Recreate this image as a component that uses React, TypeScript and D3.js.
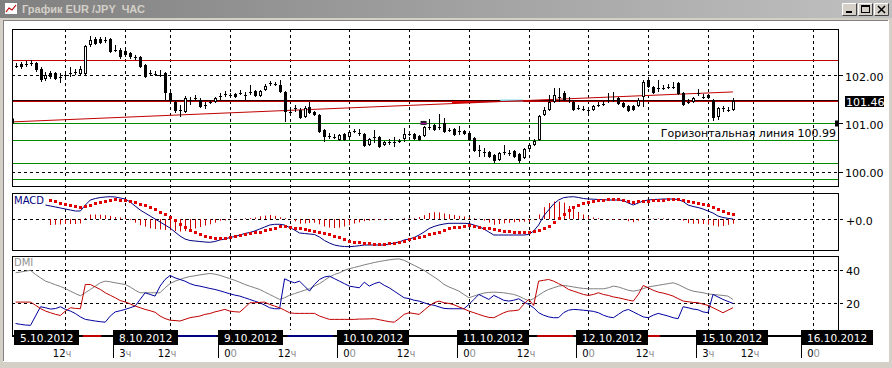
import React from "react";
import * as d3 from "d3";

// EUR/JPY hourly bars, 5.10.2012 - 15.10.2012
const opens = [
  102.19, 102.23, 102.22, 102.22, 102.25, 102.12, 101.92, 102.04, 102.04, 101.95,
  101.98, 102.03, 102.05, 102.02, 102.02, 102.62, 102.74, 102.74, 102.71, 102.74,
  102.51, 102.52, 102.50, 102.45, 102.38, 102.37, 102.21, 102.03, 102.01, 102.02,
  102.04, 101.63, 101.44, 101.27, 101.23, 101.49, 101.51, 101.48, 101.37, 101.43,
  101.44, 101.56, 101.60, 101.59, 101.61, 101.62, 101.59, 101.64, 101.67, 101.57,
  101.69, 101.83, 101.82, 101.79, 101.65, 101.23, 101.30, 101.28, 101.13, 101.34,
  101.23, 101.17, 100.86, 100.74, 100.72, 100.66, 100.78, 100.72, 100.84, 100.82,
  100.78, 100.55, 100.72, 100.72, 100.55, 100.62, 100.61, 100.64, 100.68, 100.78,
  100.78, 100.74, 100.74, 100.92, 100.97, 100.91, 101.01, 100.86, 100.88, 100.84,
  100.84, 100.80, 100.70, 100.44, 100.41, 100.41, 100.35, 100.24, 100.40, 100.38,
  100.43, 100.37, 100.28, 100.47, 100.55, 100.66, 101.17, 101.28, 101.44, 101.54,
  101.63, 101.48, 101.44, 101.31, 101.29, 101.27, 101.28, 101.37, 101.39, 101.47,
  101.48, 101.52, 101.42, 101.36, 101.36, 101.36, 101.54, 101.90, 101.75, 101.72,
  101.73, 101.74, 101.76, 101.83, 101.63, 101.43, 101.44, 101.62, 101.54, 101.59,
  101.48, 101.13, 101.30, 101.27, 101.28,
];
const highs = [
  102.25, 102.27, 102.29, 102.31, 102.27, 102.17, 102.06, 102.08, 102.06, 102.04,
  102.04, 102.17, 102.12, 102.19, 102.62, 102.81, 102.79, 102.79, 102.79, 102.76,
  102.62, 102.56, 102.56, 102.48, 102.41, 102.39, 102.23, 102.10, 102.08, 102.10,
  102.06, 101.65, 101.46, 101.38, 101.57, 101.54, 101.59, 101.52, 101.44, 101.48,
  101.54, 101.63, 101.67, 101.63, 101.63, 101.69, 101.65, 101.79, 101.69, 101.69,
  101.81, 101.88, 101.86, 101.90, 101.67, 101.32, 101.38, 101.32, 101.36, 101.44,
  101.26, 101.19, 100.88, 100.80, 100.78, 100.78, 100.80, 100.86, 100.88, 100.88,
  100.80, 100.70, 100.86, 100.74, 100.64, 100.68, 100.72, 100.68, 100.90, 100.82,
  100.80, 100.76, 100.94, 101.09, 100.99, 101.19, 101.11, 100.90, 100.90, 100.94,
  100.86, 100.82, 100.72, 100.55, 100.49, 100.43, 100.37, 100.41, 100.55, 100.45,
  100.45, 100.39, 100.49, 100.59, 100.68, 101.17, 101.34, 101.59, 101.73, 101.73,
  101.67, 101.54, 101.46, 101.38, 101.36, 101.34, 101.38, 101.44, 101.46, 101.63,
  101.65, 101.54, 101.44, 101.38, 101.38, 101.52, 101.90, 101.94, 101.77, 101.90,
  101.79, 101.81, 101.86, 101.86, 101.65, 101.50, 101.54, 101.71, 101.61, 101.61,
  101.50, 101.34, 101.36, 101.34, 101.52,
];
const lows = [
  102.14, 102.12, 102.17, 102.19, 102.06, 101.86, 101.88, 101.92, 101.90, 101.83,
  101.94, 101.96, 102.00, 102.00, 102.00, 102.58, 102.62, 102.64, 102.66, 102.45,
  102.48, 102.33, 102.37, 102.33, 102.31, 102.14, 101.94, 101.98, 101.98, 101.96,
  101.48, 101.44, 101.21, 101.13, 101.21, 101.38, 101.46, 101.32, 101.30, 101.40,
  101.42, 101.48, 101.54, 101.52, 101.52, 101.59, 101.48, 101.59, 101.54, 101.54,
  101.67, 101.77, 101.77, 101.63, 101.03, 101.17, 101.23, 101.09, 101.11, 101.19,
  101.15, 100.80, 100.61, 100.68, 100.68, 100.64, 100.64, 100.70, 100.80, 100.74,
  100.51, 100.53, 100.59, 100.49, 100.53, 100.55, 100.51, 100.59, 100.61, 100.74,
  100.66, 100.64, 100.72, 100.86, 100.84, 100.86, 100.80, 100.82, 100.74, 100.76,
  100.76, 100.64, 100.41, 100.30, 100.30, 100.28, 100.18, 100.22, 100.35, 100.33,
  100.28, 100.18, 100.26, 100.45, 100.53, 100.64, 101.15, 101.26, 101.42, 101.44,
  101.46, 101.42, 101.26, 101.28, 101.26, 101.21, 101.26, 101.34, 101.36, 101.42,
  101.44, 101.38, 101.32, 101.23, 101.26, 101.34, 101.34, 101.73, 101.61, 101.65,
  101.69, 101.71, 101.71, 101.59, 101.36, 101.40, 101.42, 101.56, 101.50, 101.50,
  101.05, 101.07, 101.23, 101.23, 101.26,
];
const closes = [
  102.18, 102.17, 102.23, 102.25, 102.10, 101.90, 102.00, 101.96, 101.92, 101.96,
  102.00, 102.04, 102.06, 102.12, 102.60, 102.72, 102.64, 102.66, 102.72, 102.48,
  102.52, 102.37, 102.41, 102.37, 102.37, 102.17, 101.96, 102.04, 102.02, 102.01,
  101.63, 101.46, 101.26, 101.28, 101.52, 101.48, 101.52, 101.34, 101.38, 101.44,
  101.52, 101.57, 101.61, 101.59, 101.54, 101.63, 101.58, 101.65, 101.57, 101.67,
  101.77, 101.84, 101.81, 101.65, 101.23, 101.24, 101.31, 101.11, 101.32, 101.21,
  101.17, 100.82, 100.72, 100.73, 100.71, 100.76, 100.66, 100.82, 100.85, 100.81,
  100.53, 100.68, 100.71, 100.51, 100.61, 100.61, 100.62, 100.63, 100.78, 100.79,
  100.68, 100.66, 100.92, 100.93, 100.86, 100.92, 100.82, 100.87, 100.76, 100.85,
  100.78, 100.66, 100.43, 100.45, 100.40, 100.30, 100.22, 100.39, 100.41, 100.39,
  100.30, 100.22, 100.47, 100.55, 100.64, 101.15, 101.28, 101.44, 101.59, 101.55,
  101.48, 101.49, 101.28, 101.32, 101.30, 101.28, 101.36, 101.38, 101.40, 101.48,
  101.49, 101.40, 101.34, 101.26, 101.28, 101.48, 101.86, 101.75, 101.63, 101.73,
  101.74, 101.75, 101.75, 101.61, 101.38, 101.44, 101.52, 101.63, 101.55, 101.52,
  101.11, 101.32, 101.31, 101.28, 101.46,
];

const macd: (number | null)[] = [
  null, null, null, null, null, null, 0.14, 0.13, 0.12, 0.11,
  0.10, 0.09, 0.08, 0.08, 0.14, 0.19, 0.205, 0.215, 0.22, 0.223,
  0.22, 0.21, 0.20, 0.17, 0.13, 0.09, 0.06, 0.03, 0.00, -0.03,
  -0.06, -0.09, -0.13, -0.17, -0.20, -0.215, -0.22, -0.225, -0.23, -0.233,
  -0.225, -0.21, -0.20, -0.185, -0.175, -0.16, -0.145, -0.135, -0.12, -0.10,
  -0.08, -0.06, -0.053, -0.053, -0.06, -0.085, -0.11, -0.14, -0.145, -0.15,
  -0.155, -0.18, -0.215, -0.24, -0.26, -0.27, -0.275, -0.277, -0.273, -0.267,
  -0.26, -0.26, -0.26, -0.26, -0.26, -0.25, -0.24, -0.23, -0.21, -0.20,
  -0.185, -0.16, -0.13, -0.095, -0.075, -0.06, -0.05, -0.043, -0.043, -0.043,
  -0.043, -0.045, -0.06, -0.075, -0.10, -0.13, -0.16, -0.16, -0.16, -0.16,
  -0.16, -0.16, -0.16, -0.155, -0.12, -0.06, 0.03, 0.09, 0.15, 0.19,
  0.213, 0.22, 0.223, 0.215, 0.205, 0.20, 0.198, 0.195, 0.193, 0.19,
  0.19, 0.19, 0.185, 0.16, 0.14, 0.16, 0.18, 0.19, 0.195, 0.197,
  0.20, 0.20, 0.20, 0.195, 0.175, 0.14, 0.125, 0.115, 0.10, 0.08,
  0.06, 0.03, 0.015, 0.007, 0.00,
];
const signal: (number | null)[] = [
  null, null, null, null, null, null, null, 0.19, 0.177, 0.165,
  0.15, 0.14, 0.13, 0.125, 0.13, 0.145, 0.16, 0.173, 0.182, 0.192,
  0.20, 0.195, 0.187, 0.178, 0.167, 0.152, 0.137, 0.123, 0.10, 0.075,
  0.05, 0.023, -0.01, -0.045, -0.08, -0.105, -0.125, -0.145, -0.165, -0.18,
  -0.188, -0.193, -0.185, -0.177, -0.17, -0.16, -0.152, -0.143, -0.135, -0.127,
  -0.113, -0.10, -0.085, -0.07, -0.068, -0.078, -0.087, -0.093, -0.10, -0.11,
  -0.118, -0.127, -0.14, -0.155, -0.17, -0.183, -0.20, -0.215, -0.228, -0.233,
  -0.238, -0.243, -0.248, -0.25, -0.248, -0.245, -0.242, -0.23, -0.218, -0.205,
  -0.193, -0.18, -0.168, -0.155, -0.143, -0.125, -0.105, -0.09, -0.083, -0.075,
  -0.068, -0.06, -0.068, -0.077, -0.085, -0.093, -0.102, -0.11, -0.117, -0.122,
  -0.127, -0.132, -0.133, -0.125, -0.115, -0.105, -0.088, -0.07, -0.025, 0.015,
  0.05, 0.09, 0.123, 0.145, 0.16, 0.175, 0.182, 0.187, 0.192, 0.196,
  0.199, 0.197, 0.19, 0.182, 0.173, 0.177, 0.181, 0.185, 0.19, 0.192,
  0.195, 0.197, 0.199, 0.197, 0.19, 0.182, 0.173, 0.162, 0.15, 0.137,
  0.125, 0.105, 0.085, 0.065, 0.047,
];

const adx = [
  38, 38.5, 39, 39.5, 37, 35, 33, 32, 30.8, 29.8,
  28.5, 27, 25.5, 24.2, 26, 28, 30, 32, 33, 32.6,
  32, 31.5, 31, 29.5, 27.5, 26, 26, 26, 26, 26,
  29, 31.5, 33, 34, 35, 35.8, 36.2, 36.8, 37.2, 37.6,
  37.2, 36.5, 35.5, 34.5, 33.5, 32.3, 31, 30, 29, 28,
  26.5, 25, 23.5, 22, 23, 24.5, 25.5, 26.5, 27.5, 28.4,
  30, 31.5, 33.5, 35.5, 37, 38, 39.5, 40.5, 41.2, 42,
  42.8, 43.5, 44.2, 44.8, 45.3, 45.8, 46.2, 46.4, 45.5, 44,
  42.5, 41, 39.5, 37.5, 35.5, 33.5, 31, 29.5, 28.3, 27,
  25, 23, 24, 25, 25.8, 26.2, 26.4, 26.2, 26, 25.5,
  25, 24, 22.5, 21.2, 22.5, 24.5, 26.5, 28, 29, 30,
  30.4, 30, 29.5, 29, 28.6, 28.4, 28.4, 28.4, 28.4, 29,
  30, 29.5, 28.5, 27.5, 27, 27.5, 28.5, 29.5, 30, 30.5,
  31, 31.5, 32, 31, 29.5, 28, 27, 26.5, 26, 25.3,
  25, 24.7, 24.4, 24, 22,
];
const minusDI = [
  7.5, 7, 6.6, 6.4, 12, 17.6, 17, 16.2, 16.5, 17.6,
  16, 15, 13.5, 11.5, 10, 9.5, 9, 8.6, 8.3, 12,
  14.5, 15.2, 16, 17, 18, 22, 26, 25, 24, 30,
  34, 36.4, 35, 34, 33, 31.5, 30.5, 30, 29.3, 28.6,
  28, 27.2, 26.3, 25.4, 24.6, 24, 23, 22, 21, 20,
  18.6, 17, 16.4, 16.4, 34.4, 33, 32, 33, 30, 27,
  31, 34, 35.5, 36, 34.5, 33, 31.5, 30, 29.5, 29,
  32.4, 30, 31.5, 32.4, 30.5, 29, 27, 25, 23, 22.5,
  21.5, 21, 20, 19, 18.5, 17.5, 16.6, 16.4, 16.4, 16.4,
  16.4, 19, 22, 25, 23.5, 22, 24.4, 23, 21.5, 21,
  21.5, 22.4, 20.5, 19, 17, 14, 12.5, 11.5, 11, 11,
  14, 15.5, 16, 15.8, 15.5, 15.2, 14.8, 14, 12.5, 11.5,
  11, 13, 15, 16, 14.5, 13, 11.5, 11, 12.5, 13.6,
  12.8, 12, 11, 10.4, 17.6, 17, 16.2, 15.8, 14.5, 14,
  25, 23.5, 22, 20.8, 19.6,
];
const plusDI = [
  20.4, 20.4, 20.4, 20.4, 18.5, 16.5, 15, 14, 13, 12.4,
  15, 17, 16.6, 16.4, 31, 31, 29.5, 28, 26, 24.5,
  23, 21.3, 20.5, 19.3, 18, 17, 16, 15.2, 14.3, 12,
  10.5, 9.5, 9.3, 9, 10, 11, 11.5, 12, 13, 13.5,
  14.5, 15.2, 16, 15, 14.6, 14.4, 17, 20, 20, 20.2,
  20.4, 19, 18, 17, 15.5, 14, 13.6, 13.6, 13.6, 13.6,
  13.6, 12, 11, 10, 10, 10, 10, 10, 10, 10.2,
  10.2, 10.3, 10.4, 9.8, 9.2, 8.6, 8.3, 10.5, 13, 14,
  13.5, 13, 15.5, 18, 20, 21, 20, 19.6, 18.8, 17.5,
  16.3, 15, 14, 13, 12, 11.2, 11, 12.5, 14, 15,
  15.2, 15.6, 19, 22, 18.4, 33, 33.5, 34, 33, 31.5,
  30, 28, 27, 26, 25, 24.4, 25, 26, 25, 24.4,
  23.5, 23, 22.3, 21.6, 21, 25, 30.4, 29, 27.5, 26.4,
  25.8, 25, 24, 22.5, 21, 20.6, 20.2, 20, 19.2, 18.4,
  17, 15.5, 14, 15.5, 17,
];

// time axis (bar index)
const gridBars = [10, 22, 31, 43, 55, 67, 79, 91, 103, 115, 127, 139, 148, 160];
const hourLabels = ["12ч", "3ч", "12ч", "00", "12ч", "00", "12ч", "00", "12ч", "00", "12ч", "3ч", "12ч", "00"];
const dayBars = [0, 20, 41, 65, 89, 113, 137, 158];
const dayLabels = ["5.10.2012", "8.10.2012", "9.10.2012", "10.10.2012", "11.10.2012", "12.10.2012", "15.10.2012", "16.10.2012"];

// price levels
const priceTicks = [102, 101, 100];
const resistance = 102.32;
const lastPrice = 101.46;
const greenLevels = [100.99, 100.66, 100.17, 99.84];
const hLineLabel = "Горизонтальная линия 100.99";
const trendBars = [-0.7, 144];
const trendPrices = [101.03, 101.65];
const dmiTicks = [40, 20];

const FONT = "DejaVu Sans";

export default function App() {
  const x = d3.scaleLinear().domain([0, 160]).range([15.6, 812.6]);
  const yP = d3.scaleLinear().domain([100, 102]).range([171.7, 75]);
  const yM = d3.scaleLinear().domain([0, 0.2]).range([219, 199]);
  const yD = d3.scaleLinear().domain([0, 40]).range([336, 269.5]);
  const cx = (i: number) => Math.round(x(i));
  const crisp = (v: number) => Math.round(v) + 0.5;

  const L = 12, R = 838;
  const pT = 29, pB = 186, mT = 193, mB = 250, dT = 256, dB = 335;

  const macdPath = d3.line<number | null>()
    .defined(d => d != null)
    .x((_, i) => x(i))
    .y(d => yM(d as number))(macd) || "";
  const dmiLine = (arr: number[]) => d3.line<number>().x((_, i) => x(i)).y(d => yD(d))(arr) || "";

  const yLast = crisp(yP(lastPrice));
  const yH = crisp(yP(greenLevels[0]));

  return (
    <svg width={892} height={368} style={{ position: "absolute", left: 0, top: 0 }} fontFamily={FONT}>
      <defs>
        <linearGradient id="cap" x1="0" x2="1" y1="0" y2="0">
          <stop offset="0" stopColor="#808080" />
          <stop offset="1" stopColor="#c0c0c0" />
        </linearGradient>
        <clipPath id="clipM"><rect x={L} y={mT} width={R - L} height={mB - mT} /></clipPath>
        <clipPath id="clipD"><rect x={L} y={dT} width={R - L} height={dB - dT} /></clipPath>
      </defs>

      {/* window frame */}
      <rect x={0} y={0} width={892} height={368} fill="#d4d0c8" />
      <rect x={0} y={0} width={892} height={18} fill="url(#cap)" />
      <rect x={3} y={21} width={885} height={340} fill="#fff" />
      <line x1={3.5} x2={3.5} y1={21} y2={361} stroke="#808080" />
      <line x1={3} x2={888} y1={20.5} y2={20.5} stroke="#808080" />
      <line x1={3} x2={888} y1={361.5} y2={361.5} stroke="#fff" />
      <line x1={888.5} x2={888.5} y1={20} y2={362} stroke="#fff" />
      {/* icon */}
      <rect x={4.5} y={2.5} width={13} height={12} fill="#fff" stroke="#808080" />
      <polyline points="6,12 9,8 12,10 16,5" fill="none" stroke="#c00000" strokeWidth={1.2} />
      <text x={22} y={13} fontFamily="Liberation Sans" fontWeight="bold" fontSize={11} fill="#d4d0c8" style={{ whiteSpace: "pre" }}>
        {"График EUR /JPY  ЧАС"}
      </text>
      {/* caption buttons */}
      {[842, 858, 874].map((bx, k) => (
        <g key={k}>
          <rect x={bx} y={3} width={15} height={13} fill="#d4d0c8" />
          <polyline points={`${bx + 0.5},${15.5} ${bx + 0.5},${3.5} ${bx + 14.5},${3.5}`} fill="none" stroke="#fff" />
          <polyline points={`${bx + 0.5},${15.5} ${bx + 14.5},${15.5} ${bx + 14.5},${3.5}`} fill="none" stroke="#404040" />
          {k === 0 && <rect x={bx + 4} y={11} width={6} height={2} fill="#000" />}
          {k === 1 && <rect x={bx + 3.5} y={5.5} width={8} height={7} fill="none" stroke="#000" />}
          {k === 1 && <line x1={bx + 3} x2={bx + 12} y1={6.5} y2={6.5} stroke="#000" />}
          {k === 2 && <path d={`M${bx + 4},${6} L${bx + 11},${13} M${bx + 11},${6} L${bx + 4},${13}`} stroke="#000" strokeWidth={1.5} />}
        </g>
      ))}

      {/* vertical grid */}
      {gridBars.map((b, k) => (
        <line key={k} x1={crisp(x(b))} x2={crisp(x(b))} y1={pT} y2={330} stroke="#000" strokeDasharray="3,3" />
      ))}

      {/* ===== price panel ===== */}
      {priceTicks.map(p => (
        <g key={p}>
          {Math.abs(yP(p) - yH) > 2 && (
            <line x1={L} x2={R} y1={crisp(yP(p))} y2={crisp(yP(p))} stroke="#000" strokeDasharray="3,3" />
          )}
          <line x1={R} x2={R + 5} y1={crisp(yP(p))} y2={crisp(yP(p))} stroke="#000" />
          <text x={845} y={yP(p) + 5.5} fontSize={11} fill="#000">{p.toFixed(2)}</text>
        </g>
      ))}
      <line x1={L} x2={R} y1={crisp(yP(resistance))} y2={crisp(yP(resistance))} stroke="#c00000" />
      {greenLevels.map(p => (
        <line key={p} x1={L} x2={R} y1={crisp(yP(p)) - (p === greenLevels[0] ? 1 : 0)} y2={crisp(yP(p)) - (p === greenLevels[0] ? 1 : 0)} stroke="#008a00" />
      ))}
      <line x1={L} x2={R} y1={yLast - 1} y2={yLast - 1} stroke="#300000" />
      <line x1={L} x2={R} y1={yLast} y2={yLast} stroke="#c00000" />
      <line x1={x(97.3)} x2={x(101.9)} y1={yLast - 1} y2={yLast - 1} stroke="#80d8f0" strokeWidth={2} />
      <line x1={x(87.6)} x2={x(92.6)} y1={yLast + 0.5} y2={yLast + 0.5} stroke="#e00000" strokeWidth={2} />
      <line x1={x(trendBars[0])} x2={x(trendBars[1])} y1={yP(trendPrices[0])} y2={yP(trendPrices[1])} stroke="#c00000" />
      <rect x={L} y={yH - 6} width={2} height={5} fill="#000" />
      <rect x={R - 3} y={yH - 4} width={3} height={6} fill="#000" />
      <text x={836} y={yH + 12} fontSize={11} textAnchor="end" fill="#000">{hLineLabel}</text>

      {/* candles */}
      {opens.map((o, i) => {
        const c = closes[i];
        const xc = cx(i);
        const yo = Math.round(yP(o)), yc = Math.round(yP(c));
        const top = Math.min(yo, yc), bot = Math.max(yo, yc);
        return (
          <g key={i}>
            <line x1={xc + 0.5} x2={xc + 0.5} y1={Math.round(yP(highs[i]))} y2={Math.round(yP(lows[i]))} stroke="#000" />
            {bot - top < 2 ? (
              <line x1={xc - 1} x2={xc + 2} y1={yc + 0.5} y2={yc + 0.5} stroke="#000" />
            ) : c < o ? (
              <rect x={xc - 1} y={top} width={3} height={bot - top} fill="#000" />
            ) : (
              <rect x={xc - 0.5} y={top + 0.5} width={2} height={bot - top - 1} fill="#fff" stroke="#000" />
            )}
          </g>
        );
      })}
      {/* drawing marker */}
      <rect x={x(81.3)} y={yP(101.05)} width={6} height={4} fill="#202020" />
      <line x1={x(81.3)} x2={x(81.3) + 6} y1={yP(101.01) + 0.5} y2={yP(101.01) + 0.5} stroke="#b000b0" />

      <rect x={845} y={yLast - 5.5} width={39} height={11} fill="#000" />
      <text x={846} y={yLast + 4} fontSize={11} fill="#fff">{lastPrice.toFixed(2)}</text>
      <rect x={L + 0.5} y={pT + 0.5} width={R - L} height={pB - pT} fill="none" stroke="#000" />

      {/* ===== MACD panel ===== */}
      <line x1={L} x2={R + 5} y1={crisp(yM(0))} y2={crisp(yM(0))} stroke="#000" strokeDasharray="3,3" />
      <text x={846} y={yM(0) + 5.5} fontSize={11} fill="#000">+0.0</text>
      <g clipPath="url(#clipM)">
        {signal.map((s, i) => {
          const m = macd[i];
          if (s == null || m == null) return null;
          return <line key={i} x1={cx(i) + 0.5} x2={cx(i) + 0.5} y1={yM(0)} y2={yM(m - s)} stroke="#d00000" />;
        })}
        <path d={macdPath} fill="none" stroke="#000080" />
        {signal.map((s, i) => s == null ? null : (
          <rect key={i} x={cx(i) - 1} y={Math.round(yM(s)) - 1} width={3} height={3} fill="#e00000" />
        ))}
      </g>
      <text x={14} y={204} fontSize={10} fill="#000080">MACD</text>
      <rect x={L + 0.5} y={mT + 0.5} width={R - L} height={mB - mT} fill="none" stroke="#000" />

      {/* ===== DMI panel ===== */}
      {dmiTicks.map(v => (
        <g key={v}>
          <line x1={L} x2={R + 5} y1={crisp(yD(v))} y2={crisp(yD(v))} stroke="#000" strokeDasharray="3,3" />
          <text x={846} y={yD(v) + 5.5} fontSize={11} fill="#000">{v}</text>
        </g>
      ))}
      <g clipPath="url(#clipD)">
        <path d={dmiLine(adx)} fill="none" stroke="#808080" />
        <path d={dmiLine(minusDI)} fill="none" stroke="#0000a0" />
        <path d={dmiLine(plusDI)} fill="none" stroke="#c00000" />
      </g>
      <text x={14} y={266} fontSize={10} fill="#909090">DMI</text>
      <rect x={L + 0.5} y={dT + 0.5} width={R - L} height={dB - dT} fill="none" stroke="#000" />
      <line x1={L} x2={R + 1} y1={dB + 1} y2={dB + 1} stroke="#000" strokeWidth={2} />
      {[[13.5, 17.2, "#c00000"], [32.6, 40.4, "#000080"], [54.5, 63.7, "#000080"], [104.7, 112, "#c00000"], [127, 129.4, "#c00000"]].map(([a, b, col], k) => (
        <line key={k} x1={x(a as number)} x2={x(b as number)} y1={dB + 1} y2={dB + 1} stroke={col as string} strokeWidth={2} />
      ))}

      {/* ===== time axis ===== */}
      {dayBars.map((b, k) => {
        const bx = cx(b) - 2;
        const w = dayLabels[k].length * 7 + 2;
        return (
          <g key={k}>
            <rect x={bx} y={330} width={w} height={15} fill="#000" />
            <text x={bx + 6} y={342} fontSize={10.5} fill="#fff">{dayLabels[k]}</text>
            {k > 0 && <line x1={bx + 0.5} x2={bx + 0.5} y1={345} y2={358} stroke="#000" />}
          </g>
        );
      })}
      {gridBars.map((b, k) => {
        const lbl = hourLabels[k];
        const gx = crisp(x(b));
        return (
          <g key={k} fontSize={10}>
            <text x={gx} y={357} textAnchor="end" fill="#000">{lbl.slice(0, -1)}</text>
            <text x={gx} y={357} fill="#909090">{lbl.slice(-1)}</text>
          </g>
        );
      })}
    </svg>
  );
}
